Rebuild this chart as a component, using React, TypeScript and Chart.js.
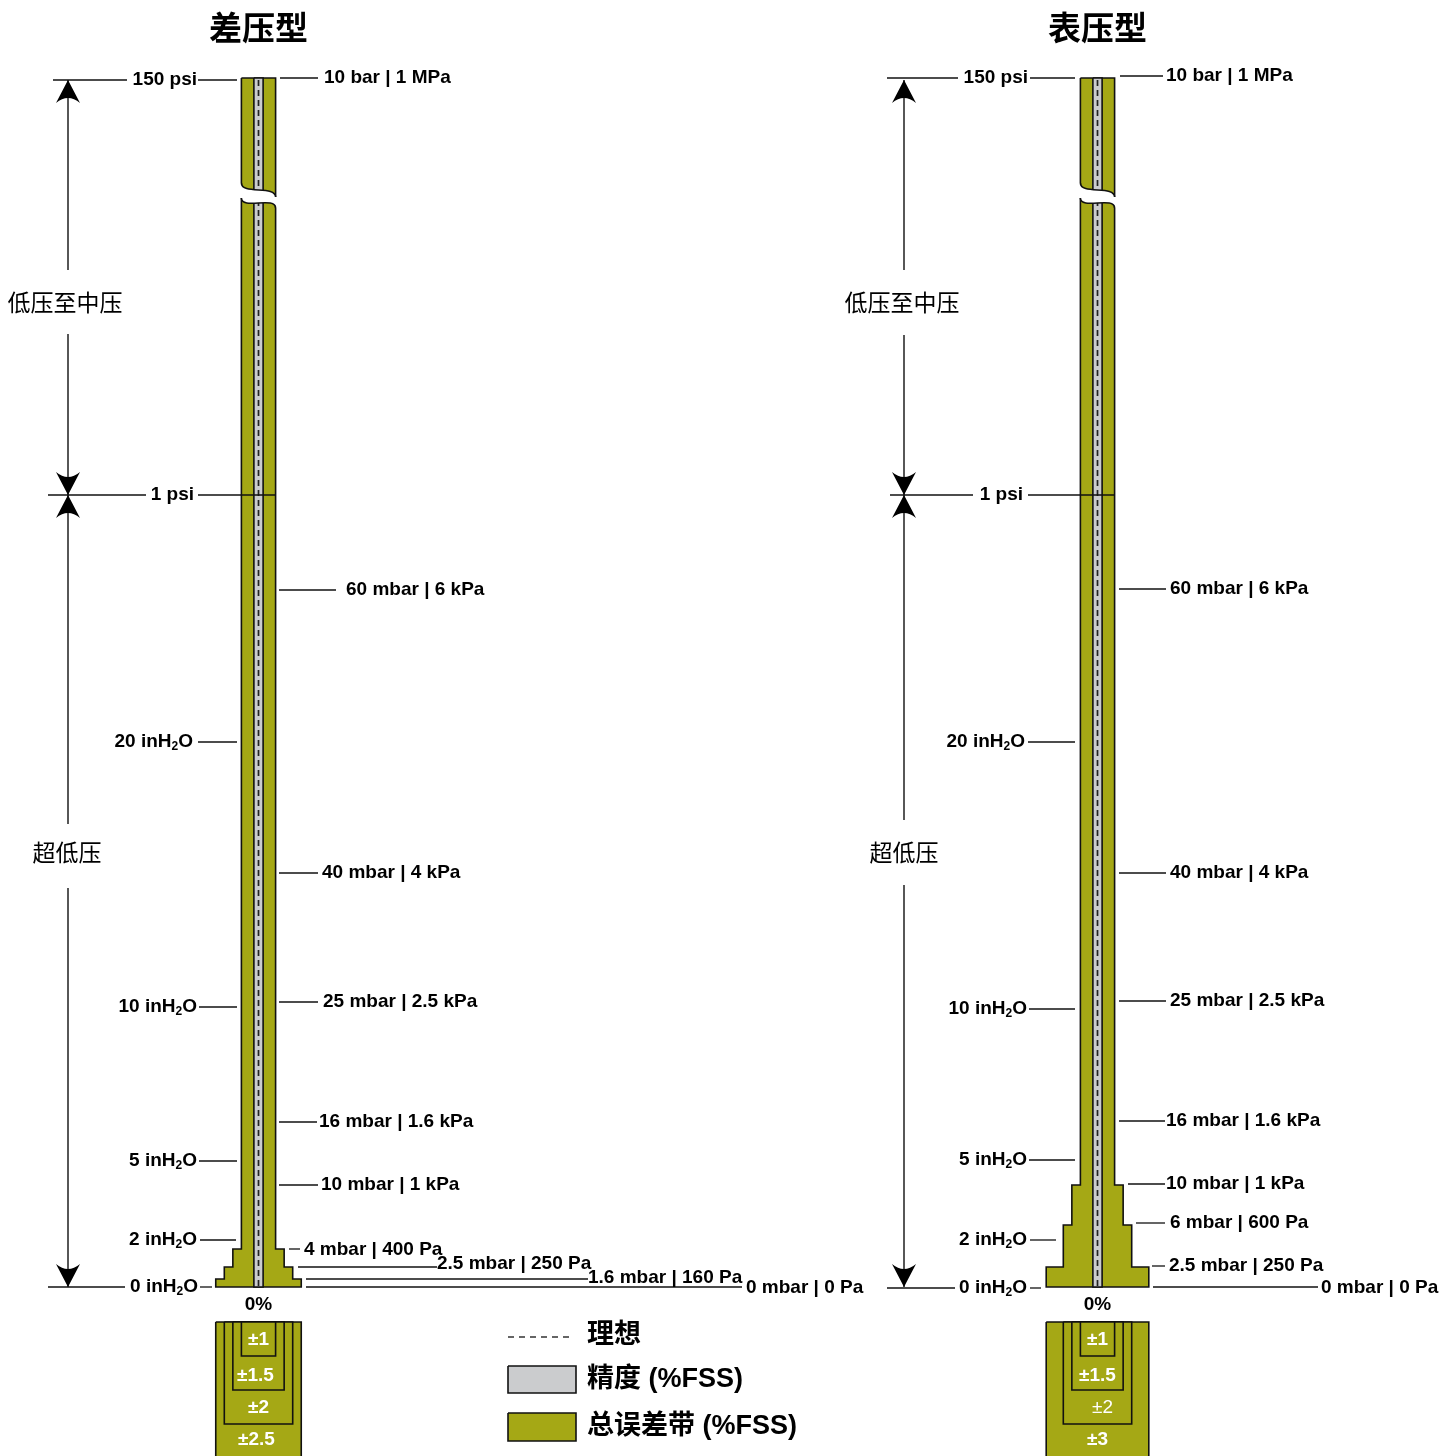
import React, { useEffect, useRef } from 'react';
import { Chart, registerables } from 'chart.js';

Chart.register(...registerables);

// ================= DATA =================
const panelTitles = ['差压型', '表压型'];
const rangeNames = ['低压至中压', '超低压'];
const zeroLabel = '0%';
const legendLabels = ['理想', '精度 (%FSS)', '总误差带 (%FSS)'];
const precisionPct = 0.27;

// 差压型 (differential)
const dpBandPct = [1, 1.5, 2, 2.5];
const dpBandEdgeY = [78, 1249, 1267, 1279, 1287];
const dpInLabels = ['150 psi', '1 psi', '20 inH₂O', '10 inH₂O', '5 inH₂O', '2 inH₂O', '0 inH₂O'];
const dpInY = [80, 495, 742, 1007, 1161, 1240, 1287];
const dpMbLabels = ['10 bar | 1 MPa', '60 mbar | 6 kPa', '40 mbar | 4 kPa', '25 mbar | 2.5 kPa', '16 mbar | 1.6 kPa', '10 mbar | 1 kPa', '4 mbar | 400 Pa', '2.5 mbar | 250 Pa', '1.6 mbar | 160 Pa', '0 mbar | 0 Pa'];
const dpMbY = [78, 590, 873, 1002, 1122, 1185, 1249, 1267, 1279, 1287];
const dpKeyPct = [2.5, 2, 1.5, 1];
const dpKeyLabels = ['±2.5', '±2', '±1.5', '±1'];

// 表压型 (gauge)
const gpBandPct = [1, 1.5, 2, 3];
const gpBandEdgeY = [78, 1185, 1225, 1267, 1287];
const gpInLabels = ['150 psi', '1 psi', '20 inH₂O', '10 inH₂O', '5 inH₂O', '2 inH₂O', '0 inH₂O'];
const gpInY = [78, 495, 742, 1009, 1160, 1240, 1288];
const gpMbLabels = ['10 bar | 1 MPa', '60 mbar | 6 kPa', '40 mbar | 4 kPa', '25 mbar | 2.5 kPa', '16 mbar | 1.6 kPa', '10 mbar | 1 kPa', '6 mbar | 600 Pa', '2.5 mbar | 250 Pa', '0 mbar | 0 Pa'];
const gpMbY = [76, 589, 873, 1001, 1121, 1184, 1223, 1266, 1287];
const gpKeyPct = [3, 2, 1.5, 1];
const gpKeyLabels = ['±3', '±2', '±1.5', '±1'];

// range arrows (tips): 150 psi, 1 psi, 0 inH2O
const rangeTipY = [80, 495, 1287];

// ================= LAYOUT / STYLE =================
const SIZE = 1456;
const K = 17.1; // px per %FSS
const OLIVE = '#A5A815';
const GRAY = '#CBCCCE';
const INK = '#111111';
const TEXT = '#000000';
const LATIN = "'Liberation Sans', Arial, sans-serif";
const CJK = "'Noto Sans CJK SC', sans-serif";

const panels = [
  {
    cx: 258.5, arrowX: 68, title: panelTitles[0],
    pct: dpBandPct, edges: dpBandEdgeY,
    inLabels: dpInLabels, inY: dpInY, inTextX: [197, 194, 193, 197, 197, 197, 198],
    inSegs: [[[53, 127], [198, 237]], [[48, 146], [198, 276]], [[198, 237]], [[199, 237]], [[199, 237]], [[200, 236]], [[48, 125], [200, 212]]],
    mbLabels: dpMbLabels, mbY: dpMbY, mbTextX: [324, 346, 322, 323, 319, 321, 304, 437, 588, 746],
    mbTextDy: [0, 0, 0, 0, 0, 0, 1, -3, -1, 1],
    mbSegs: [[280, 318], [279, 336], [279, 318], [279, 318], [279, 317], [279, 318], [289, 300], [298, 437], [306, 588], [306, 742]],
    rangeGaps: [[270, 334], [824, 888]], rangeLabelX: [65, 67],
    keyPct: dpKeyPct, keyLabels: dpKeyLabels, keyBold: [true, true, true, true], keyDx: [-2, 0, -3, 0],
  },
  {
    cx: 1097.5, arrowX: 904, title: panelTitles[1],
    pct: gpBandPct, edges: gpBandEdgeY,
    inLabels: gpInLabels, inY: gpInY, inTextX: [1028, 1023, 1025, 1027, 1027, 1027, 1027],
    inSegs: [[[887, 958], [1030, 1075]], [[890, 973], [1028, 1115]], [[1028, 1075]], [[1029, 1075]], [[1029, 1075]], [[1030, 1056]], [[887, 955], [1030, 1041]]],
    mbLabels: gpMbLabels, mbY: gpMbY, mbTextX: [1166, 1170, 1170, 1170, 1166, 1166, 1170, 1169, 1321],
    mbTextDy: [0, 0, 0, 0, 0, 0, 0, 0, 1],
    mbSegs: [[1120, 1163], [1119, 1166], [1119, 1166], [1119, 1166], [1119, 1165], [1128, 1165], [1136, 1165], [1152, 1165], [1153, 1318]],
    rangeGaps: [[270, 335], [820, 885]], rangeLabelX: [902, 904],
    keyPct: gpKeyPct, keyLabels: gpKeyLabels, keyBold: [true, false, true, true], keyDx: [0, 5, 0, 0],
  },
];
const titleY = 27;
const zeroY = 1305;
const rangeLabelY = [302, 852];
const keyTop = 1322;
const keyBottom = [1470, 1424, 1390, 1356];
const keyLabelY = [1440, 1408, 1376, 1340];
const breakUpper = [183, 197];
const breakLower = [198, 208];
const legendX = [508, 576];
const legendTextX = 587;
const legendTextY = [1336, 1380, 1427];

// ================= HELPERS =================
type P = { x: number; y: number };

function stepColumn(cx: number, pct: number[], edges: number[]): P[] {
  const pts: P[] = [];
  for (let i = 0; i < pct.length; i++) {
    const x = cx - pct[i] * K;
    pts.push({ x, y: edges[i] }, { x, y: edges[i + 1] });
  }
  for (let i = pct.length - 1; i >= 0; i--) {
    const x = cx + pct[i] * K;
    pts.push({ x, y: edges[i + 1] }, { x, y: edges[i] });
  }
  return pts;
}
function rect(x1: number, y1: number, x2: number, y2: number): P[] {
  return [{ x: x1, y: y1 }, { x: x1, y: y2 }, { x: x2, y: y2 }, { x: x2, y: y1 }];
}
function polyDs(pts: P[], color: string, order: number) {
  return {
    data: [...pts, pts[0]], borderColor: INK, borderWidth: 1.6, backgroundColor: color,
    fill: 'shape', pointRadius: 0, order, clip: false, tension: 0, borderJoinStyle: 'miter',
  };
}
function lineDs(pts: P[], color: string, width: number, order: number, dash: number[] = []) {
  return {
    data: pts, borderColor: color, borderWidth: width, fill: false, pointRadius: 0,
    order, clip: false, tension: 0, borderDash: dash, borderCapStyle: 'butt',
  };
}

function buildDatasets() {
  const ds: any[] = [];
  panels.forEach((p) => {
    const top = p.edges[0];
    const bottom = p.edges[p.edges.length - 1];
    ds.push(polyDs(stepColumn(p.cx, p.pct, p.edges), OLIVE, 50));
    ds.push(polyDs(rect(p.cx - precisionPct * K, top, p.cx + precisionPct * K, bottom), GRAY, 49));
    ds.push(lineDs([{ x: p.cx, y: top + 2 }, { x: p.cx, y: bottom - 1 }], '#222222', 1.7, 48, [6, 4]));
    p.keyPct.forEach((k, i) => {
      ds.push(polyDs(rect(p.cx - k * K, keyTop, p.cx + k * K, keyBottom[i]), OLIVE, 45 - i));
    });
    p.inSegs.forEach((segs, i) => {
      segs.forEach((s) => ds.push(lineDs([{ x: s[0], y: p.inY[i] }, { x: s[1], y: p.inY[i] }], INK, 1.3, 10)));
    });
    p.mbSegs.forEach((s, i) => {
      ds.push(lineDs([{ x: s[0], y: p.mbY[i] }, { x: s[1], y: p.mbY[i] }], INK, 1.3, 10));
    });
    // arrow shafts
    const stops = [rangeTipY[0], p.rangeGaps[0][0], p.rangeGaps[0][1], rangeTipY[1], rangeTipY[1], p.rangeGaps[1][0], p.rangeGaps[1][1], rangeTipY[2]];
    for (let i = 0; i < stops.length; i += 2) {
      ds.push(lineDs([{ x: p.arrowX, y: stops[i] }, { x: p.arrowX, y: stops[i + 1] }], INK, 1.4, 10));
    }
  });
  // legend
  ds.push(lineDs([{ x: legendX[0], y: 1337 }, { x: 572, y: 1337 }], '#333', 1.3, 10, [6, 5]));
  ds.push(polyDs(rect(legendX[0], 1366, legendX[1], 1393), GRAY, 20));
  ds.push(polyDs(rect(legendX[0], 1413, legendX[1], 1441), OLIVE, 20));
  return ds;
}

function drawRich(ctx: CanvasRenderingContext2D, text: string, x: number, y: number, align: string, size = 19, weight = 'bold', color = TEXT) {
  const main = `${weight} ${size}px ${LATIN}`;
  const sub = `${weight} ${Math.round(size * 0.63)}px ${LATIN}`;
  const parts = text.split('₂');
  ctx.font = main;
  const w1 = ctx.measureText(parts[0]).width;
  let w2 = 0, w3 = 0;
  if (parts.length > 1) {
    ctx.font = sub; w2 = ctx.measureText('2').width;
    ctx.font = main; w3 = ctx.measureText(parts[1]).width;
  }
  const total = w1 + w2 + w3;
  const sx = align === 'right' ? x - total : align === 'center' ? x - total / 2 : x;
  ctx.fillStyle = color;
  ctx.textAlign = 'left';
  ctx.textBaseline = 'middle';
  ctx.font = main;
  ctx.fillText(parts[0], sx, y);
  if (parts.length > 1) {
    ctx.font = sub; ctx.fillText('2', sx + w1, y + 5);
    ctx.font = main; ctx.fillText(parts[1], sx + w1 + w2, y);
  }
}

function arrowHead(ctx: CanvasRenderingContext2D, x: number, tip: number, dir: number) {
  // dir = 1 pointing down, -1 pointing up
  const len = 23, hw = 12, notch = 5;
  const b = tip - dir * len;
  ctx.beginPath();
  ctx.moveTo(x, tip);
  ctx.lineTo(x + hw, b);
  ctx.quadraticCurveTo(x, b + dir * notch * 2, x - hw, b);
  ctx.closePath();
  ctx.fillStyle = '#000';
  ctx.fill();
}

const diagramPlugin = {
  id: 'diagram',
  afterDatasetsDraw(chart: any) {
    const ctx: CanvasRenderingContext2D = chart.ctx;
    const X = (v: number) => chart.scales.x.getPixelForValue(v);
    const Y = (v: number) => chart.scales.y.getPixelForValue(v);
    ctx.save();
    panels.forEach((p) => {
      // break in the column
      const L = X(p.cx - p.pct[0] * K);
      const R = X(p.cx + p.pct[0] * K);
      const u0 = Y(breakUpper[0]), u1 = Y(breakUpper[1]);
      const l0 = Y(breakLower[0]), l1 = Y(breakLower[1]);
      ctx.beginPath();
      ctx.moveTo(L - 3, u0);
      ctx.lineTo(L, u0);
      ctx.bezierCurveTo(L, u0 + 12, R, u1 - 12, R, u1);
      ctx.lineTo(R + 3, u1);
      ctx.lineTo(R + 3, l1);
      ctx.lineTo(R, l1);
      ctx.bezierCurveTo(R, l1 - 12, L, l0 + 12, L, l0);
      ctx.lineTo(L - 3, l0);
      ctx.closePath();
      ctx.fillStyle = '#ffffff';
      ctx.fill();
      ctx.strokeStyle = INK;
      ctx.lineWidth = 1.6;
      ctx.beginPath();
      ctx.moveTo(L, u0);
      ctx.bezierCurveTo(L, u0 + 12, R, u1 - 12, R, u1);
      ctx.stroke();
      ctx.beginPath();
      ctx.moveTo(L, l0);
      ctx.bezierCurveTo(L, l0 + 12, R, l1 - 12, R, l1);
      ctx.stroke();

      // arrowheads
      const ax = X(p.arrowX);
      arrowHead(ctx, ax, Y(rangeTipY[0]), -1);
      arrowHead(ctx, ax, Y(rangeTipY[1]), 1);
      arrowHead(ctx, ax, Y(rangeTipY[1]), -1);
      arrowHead(ctx, ax, Y(rangeTipY[2]), 1);

      // range names
      ctx.fillStyle = TEXT;
      ctx.textAlign = 'center';
      ctx.textBaseline = 'middle';
      ctx.font = `23px ${CJK}`;
      rangeNames.forEach((n, i) => ctx.fillText(n, X(p.rangeLabelX[i]), Y(rangeLabelY[i])));

      // title
      ctx.font = `bold 33px ${CJK}`;
      ctx.fillText(p.title, X(p.cx), Y(titleY));

      // labels
      p.inLabels.forEach((t, i) => drawRich(ctx, t, X(p.inTextX[i]), Y(p.inY[i]), 'right'));
      p.mbLabels.forEach((t, i) => drawRich(ctx, t, X(p.mbTextX[i]), Y(p.mbY[i] + p.mbTextDy[i]), 'left'));
      drawRich(ctx, zeroLabel, X(p.cx), Y(zeroY), 'center');

      // key labels
      p.keyLabels.forEach((t, i) => {
        drawRich(ctx, t, X(p.cx + p.keyDx[i]), Y(keyLabelY[i]), 'center', 19, p.keyBold[i] ? 'bold' : 'normal', '#ffffff');
      });
    });

    // legend text
    ctx.fillStyle = TEXT;
    ctx.textAlign = 'left';
    ctx.textBaseline = 'middle';
    ctx.font = `bold 27px 'Liberation Sans', Arial, ${CJK}`;
    legendLabels.forEach((t, i) => ctx.fillText(t, X(legendTextX), Y(legendTextY[i])));
    ctx.restore();
  },
};

export default function App() {
  const ref = useRef<HTMLCanvasElement>(null);
  useEffect(() => {
    if (!ref.current) return;
    const chart = new Chart(ref.current, {
      type: 'line',
      data: { datasets: buildDatasets() },
      options: {
        animation: false,
        responsive: false,
        maintainAspectRatio: false,
        devicePixelRatio: 1,
        events: [],
        layout: { padding: 0 },
        plugins: { legend: { display: false }, tooltip: { enabled: false } },
        scales: {
          x: { type: 'linear', min: 0, max: SIZE, display: false },
          y: { type: 'linear', min: 0, max: SIZE, reverse: true, display: false },
        },
      } as any,
      plugins: [diagramPlugin],
    });
    return () => chart.destroy();
  }, []);
  return (
    <div style={{ position: 'absolute', left: 0, top: 0, width: SIZE, height: SIZE, background: '#fff' }}>
      <canvas ref={ref} width={SIZE} height={SIZE} style={{ display: 'block', width: SIZE, height: SIZE }} />
    </div>
  );
}
